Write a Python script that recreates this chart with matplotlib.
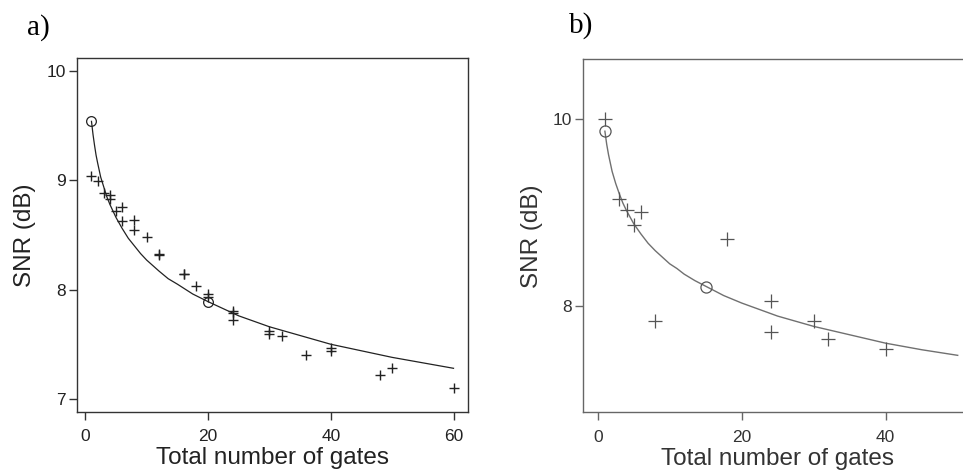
import matplotlib
matplotlib.use("Agg")
import matplotlib.pyplot as plt

# Panel a) measured points, fitted curve and anchor circles
a_gates = [1, 2, 3, 4, 4, 5, 6, 6, 8, 8, 10, 12, 12, 16, 16, 18, 20, 20,
           24, 24, 24, 30, 30, 32, 36, 40, 40, 48, 50, 60]
a_snr = [9.04, 8.99, 8.88, 8.87, 8.83, 8.72, 8.76, 8.63, 8.64, 8.55, 8.48,
         8.33, 8.32, 8.145, 8.14, 8.03, 7.96, 7.93, 7.80, 7.79, 7.72, 7.62,
         7.59, 7.58, 7.40, 7.465, 7.44, 7.22, 7.28, 7.10]
a_curve_gates = [1, 1.25, 1.5, 1.75, 2, 2.5, 3, 3.5, 4, 5, 6, 7, 8, 9, 10, 11,
                 12, 13.5, 15, 17.5, 20, 25, 30, 35, 40, 45, 50, 55, 60]
a_curve_snr = [9.54, 9.42, 9.32, 9.23, 9.16, 9.03, 8.94, 8.85, 8.78, 8.66,
               8.56, 8.47, 8.40, 8.33, 8.27, 8.22, 8.17, 8.10, 8.05, 7.96,
               7.89, 7.76, 7.66, 7.58, 7.50, 7.44, 7.38, 7.33, 7.28]
a_circle_gates = [1, 20]
a_circle_snr = [9.54, 7.886]

# Panel b)
b_gates = [1, 3, 4, 5, 6, 8, 18, 24, 24, 30, 32, 40]
b_snr = [10.0, 9.14, 9.03, 8.87, 9.01, 7.84, 8.72, 8.05, 7.725, 7.84, 7.64, 7.54]
b_curve_gates = [1, 1.25, 1.5, 1.75, 2, 2.5, 3, 3.5, 4, 5, 6, 7, 8, 9, 10, 11,
                 12, 13.5, 15, 17.5, 20, 25, 30, 35, 40, 45, 50]
b_curve_snr = [9.87, 9.73, 9.62, 9.53, 9.44, 9.31, 9.20, 9.10, 9.02, 8.88,
               8.77, 8.67, 8.59, 8.52, 8.45, 8.40, 8.34, 8.27, 8.21, 8.11,
               8.03, 7.89, 7.78, 7.69, 7.60, 7.53, 7.47]
b_circle_gates = [1, 15]
b_circle_snr = [9.87, 8.207]

SANS = ["Liberation Sans", "DejaVu Sans"]
SERIF = ["Liberation Serif", "DejaVu Serif"]
W, H = 963, 474


def style_axes(axis, color, text_color):
    for spine in axis.spines.values():
        spine.set_color(color)
        spine.set_linewidth(1.0)
    axis.tick_params(direction="out", length=5.5, width=1.0, color=color,
                     labelsize=12.5, labelcolor=text_color)
    axis.tick_params(axis="x", pad=7)
    axis.tick_params(axis="y", pad=2.5)
    for label in axis.get_xticklabels() + axis.get_yticklabels():
        label.set_family(SANS)


fig = plt.figure(figsize=(W / 100, H / 100), dpi=100)

# ---- panel a
ax_a = fig.add_axes([77 / W, 1 - 412 / H, 391 / W, 354 / H])
ax_a.plot(a_curve_gates, a_curve_snr, color="#222222", linewidth=0.9)
ax_a.plot(a_gates, a_snr, linestyle="none", marker="+", markersize=7.5,
          markeredgewidth=1.0, color="#222222")
ax_a.plot(a_circle_gates, a_circle_snr, linestyle="none", marker="o",
          markersize=7, markerfacecolor="none", markeredgewidth=0.9,
          color="#222222")
ax_a.set_xlim(-1.36, 62.36)
ax_a.set_ylim(6.88, 10.12)
ax_a.set_xticks([0, 20, 40, 60])
ax_a.set_yticks([7, 8, 9, 10])
style_axes(ax_a, "#333333", "#222222")
ax_a.set_xlabel("Total number of gates", fontsize=17.5, family=SANS, color="#222222")
ax_a.set_ylabel("SNR (dB)", fontsize=17.5, family=SANS, color="#222222")
ax_a.xaxis.set_label_coords(0.5, -0.1)
ax_a.yaxis.set_label_coords(-0.105, 0.5)

# ---- panel b (right side of the box runs past the figure edge)
ax_b = fig.add_axes([583.3 / W, 1 - 412.3 / H, 388.8 / W, 353 / H])
ax_b.plot(b_curve_gates, b_curve_snr, color="#707070", linewidth=1.0)
ax_b.plot(b_gates, b_snr, linestyle="none", marker="+", markersize=10,
          markeredgewidth=0.9, color="#555555")
ax_b.plot(b_circle_gates, b_circle_snr, linestyle="none", marker="o",
          markersize=8, markerfacecolor="none", markeredgewidth=0.9,
          color="#555555")
ax_b.set_xlim(-2, 52)
ax_b.set_ylim(6.86, 10.64)
ax_b.set_xticks([0, 20, 40])
ax_b.set_yticks([8, 10])
style_axes(ax_b, "#666666", "#333333")
ax_b.set_xlabel("Total number of gates", fontsize=17.5, family=SANS, color="#333333")
ax_b.set_ylabel("SNR (dB)", fontsize=17.5, family=SANS, color="#333333")
ax_b.xaxis.set_label_coords(0.4995, -0.1)
ax_b.yaxis.set_label_coords(-0.103, 0.5)

fig.text(27 / W, 1 - 28 / H, "a)", fontsize=21, family=SERIF, va="center", ha="left")
fig.text(569 / W, 1 - 26 / H, "b)", fontsize=21, family=SERIF, va="center", ha="left")

fig.savefig("out.png", dpi=100)
